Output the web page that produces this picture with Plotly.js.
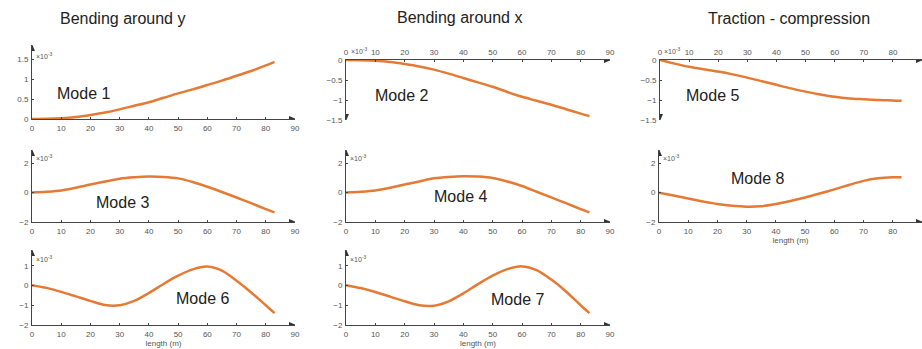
<!DOCTYPE html>
<html><head><meta charset="utf-8">
<script src="https://cdn.plot.ly/plotly-3.0.1.min.js"></script>
<style>html,body{margin:0;padding:0;background:#fff}#chart{width:922px;height:349px}</style>
</head><body><div id="chart"></div>
<script>
// Data (displacement values in units of 1e-3)
const lengthM = [0, 5, 10, 15, 20, 25, 30, 35, 40, 45, 50, 55, 60, 65, 70, 75, 80, 83];
const mode1 = [0, 0.005, 0.02, 0.05, 0.1, 0.16, 0.24, 0.33, 0.42, 0.53, 0.64, 0.74, 0.85, 0.96, 1.08, 1.2, 1.34, 1.43];
const mode2 = [0, -0.005, -0.02, -0.05, -0.1, -0.16, -0.24, -0.34, -0.45, -0.56, -0.67, -0.8, -0.92, -1.02, -1.12, -1.23, -1.34, -1.4];
const mode5 = [0, -0.09, -0.17, -0.23, -0.29, -0.36, -0.44, -0.53, -0.62, -0.71, -0.79, -0.86, -0.92, -0.96, -0.98, -1.0, -1.01, -1.02];
const mode3 = [0, 0.06, 0.15, 0.33, 0.55, 0.75, 0.95, 1.05, 1.1, 1.07, 0.97, 0.72, 0.4, 0.04, -0.33, -0.72, -1.12, -1.35];
const mode4 = [0, 0.06, 0.15, 0.33, 0.55, 0.76, 0.97, 1.07, 1.12, 1.09, 1.0, 0.76, 0.45, 0.06, -0.33, -0.72, -1.12, -1.35];
const mode8 = [0, -0.2, -0.4, -0.6, -0.78, -0.9, -0.96, -0.93, -0.78, -0.57, -0.33, -0.06, 0.22, 0.52, 0.8, 0.97, 1.04, 1.05];
const mode6 = [0.02, -0.12, -0.32, -0.55, -0.78, -0.99, -1.0, -0.78, -0.38, 0.08, 0.5, 0.82, 0.96, 0.75, 0.24, -0.35, -1.0, -1.4];
const mode7 = [0.02, -0.13, -0.33, -0.56, -0.8, -1.0, -1.02, -0.8, -0.4, 0.07, 0.5, 0.83, 0.97, 0.78, 0.3, -0.3, -1.0, -1.4];
const modeNames = ['Mode 1','Mode 2','Mode 5','Mode 3','Mode 4','Mode 8','Mode 6','Mode 7'];
const groupTitles = ['Bending around y','Bending around x','Traction - compression'];
const xTicks = [0,10,20,30,40,50,60,70,80,90];
const yTicksRow1a = [0,0.5,1,1.5];
const yTicksRow1b = [-1.5,-1,-0.5,0];
const yTicksRow2 = [-2,0,2];
const yTicksRow3 = [-2,-1,0,1];
const xLabel = 'length (m)';
const expLabel = '×10<sup>-3</sup>';

const W = 922, H = 349;
const series = [mode1, mode2, mode5, mode3, mode4, mode8, mode6, mode7];
// panel layout (pixels)
const panels = [
  {x:[32,295], y:[45,119], yr:[0,1.85], yt:yTicksRow1a, top:false, lab:[83,93], exp:[34,56], xl:false},
  {x:[346,610], y:[60,120], yr:[-1.5,0], yt:yTicksRow1b, top:true, lab:[401,95], exp:[349,51], xl:false},
  {x:[660,922], y:[60,120], yr:[-1.5,0], yt:yTicksRow1b, top:true, lab:[712,95], exp:[662,51], xl:false},
  {x:[32,295], y:[150,222], yr:[-2,2.9], yt:yTicksRow2, top:false, lab:[122,203], exp:[34,158], xl:false},
  {x:[346,610], y:[150,222], yr:[-2,2.9], yt:yTicksRow2, top:false, lab:[460,196], exp:[348,158], xl:false},
  {x:[659,922], y:[150,222], yr:[-2,2.9], yt:yTicksRow2, top:false, lab:[757,178], exp:[661,158], xl:true},
  {x:[32,295], y:[250,325], yr:[-2,1.8], yt:yTicksRow3, top:false, lab:[202,298], exp:[34,259], xl:true},
  {x:[346,610], y:[250,325], yr:[-2,1.8], yt:yTicksRow3, top:false, lab:[517,299], exp:[348,259], xl:true}
];
const px = v => v / W, py = v => 1 - v / H;
const tickFont = {family:'Liberation Sans, Arial, sans-serif', size:8, color:'#555'};
const axCol = '#444';
const data = [];
const layout = {width:W, height:H, margin:{l:0,r:0,t:0,b:0}, showlegend:false,
  paper_bgcolor:'#fff', plot_bgcolor:'rgba(0,0,0,0)', annotations:[], shapes:[]};
panels.forEach((p,i) => {
  const n = i === 0 ? '' : String(i+1);
  data.push({x:lengthM, y:series[i], xaxis:'x'+n, yaxis:'y'+n, type:'scatter', mode:'lines',
    line:{color:'#e57a34', width:2.5, shape:'spline', smoothing:0.8}, hoverinfo:'skip'});
  const xa = {domain:[px(p.x[0]), Math.min(1,px(p.x[1]))], range:[0,90], anchor:'y'+n,
    side:p.top?'top':'bottom', showgrid:false, zeroline:false, showline:true, linecolor:axCol, linewidth:1,
    tickvals:xTicks, ticks:'inside', ticklen:2, tickcolor:axCol, tickfont:tickFont, ticklabelstandoff:1};
  if (p.xl) xa.title = {text:xLabel, font:tickFont, standoff:1};
  layout['xaxis'+n] = xa;
  layout['yaxis'+n] = {domain:[py(p.y[1]), py(p.y[0])], range:p.yr, anchor:'x'+n,
    showgrid:false, zeroline:false, showline:true, linecolor:axCol, linewidth:1,
    tickvals:p.yt, ticks:'inside', ticklen:2, tickcolor:axCol, tickfont:tickFont, ticklabelstandoff:1};
  const xr = 'x'+n, yr = 'y'+n;
  // arrowheads (pixel-sized triangles anchored at axis ends)
  const xAxisY = p.top ? p.yr[1] : p.yr[0];
  layout.shapes.push({type:'path', xref:xr, yref:yr, xsizemode:'pixel', ysizemode:'pixel',
    xanchor:90, yanchor:xAxisY, path:'M1,0 L-6,3 L-6,-3 Z', fillcolor:'#333', line:{width:0}});
  const yEnd = p.top ? p.yr[0] : p.yr[1];
  const yPath = p.top ? 'M0,-1 L-3,6 L3,6 Z' : 'M0,1 L-3,-6 L3,-6 Z';
  layout.shapes.push({type:'path', xref:xr, yref:yr, xsizemode:'pixel', ysizemode:'pixel',
    xanchor:0, yanchor:yEnd, path:yPath, fillcolor:'#333', line:{width:0}});
  // mode label
  layout.annotations.push({xref:'paper', yref:'paper', x:px(p.lab[0]), y:py(p.lab[1]), text:modeNames[i],
    showarrow:false, xanchor:'center', yanchor:'middle',
    font:{family:'Liberation Sans, Arial, sans-serif', size:16, color:'#222'}});
  // exponent
  layout.annotations.push({xref:'paper', yref:'paper', x:px(p.exp[0]), y:py(p.exp[1]), text:expLabel,
    showarrow:false, xanchor:'left', yanchor:'middle',
    font:{family:'Liberation Sans, Arial, sans-serif', size:7, color:'#555'}});
});
const titlePos = [[123,18],[459,17],[789,18]];
groupTitles.forEach((t,i) => {
  layout.annotations.push({xref:'paper', yref:'paper', x:px(titlePos[i][0]), y:py(titlePos[i][1]), text:t,
    showarrow:false, xanchor:'center', yanchor:'middle',
    font:{family:'Liberation Sans, Arial, sans-serif', size:16, color:'#222'}});
});
Plotly.newPlot('chart', data, layout, {displayModeBar:false, staticPlot:true});
</script></body></html>
